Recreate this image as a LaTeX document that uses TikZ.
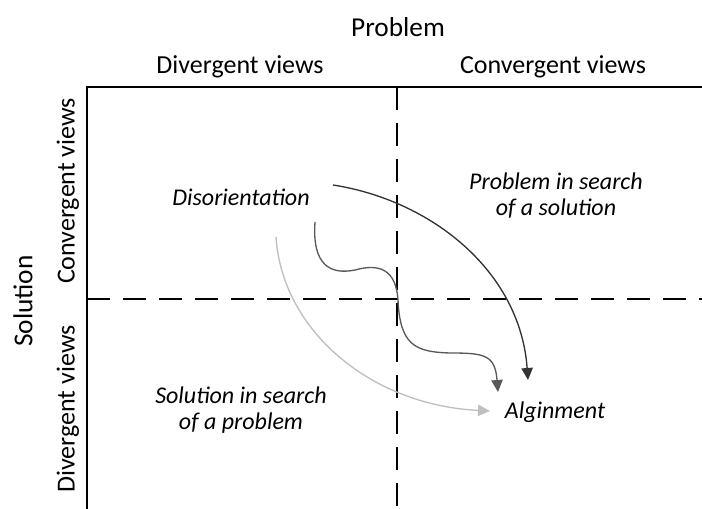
\documentclass[tikz,border=0pt]{standalone}
\usepackage{fontspec}
\setmainfont{Carlito}
\usetikzlibrary{arrows.meta}

\begin{document}
\begin{tikzpicture}[x=0.75pt,y=-0.75pt,>={Triangle[length=9pt,width=8.5pt]},
    grid/.style={line width=0.8pt,dash pattern=on 17pt off 10pt},
    head/.style={font=\fontsize{20.5}{24}\selectfont},
    side/.style={font=\fontsize{19.5}{23}\selectfont},
    tag/.style={font=\fontsize{18}{19.5}\selectfont\itshape,align=center}]
  \useasboundingbox (0,0) rectangle (702,509);
  % frame and quadrants
  \coordinate (tl) at (87,87);
  \draw[line width=0.8pt] (702,87) -- (tl) -- (87,509);
  \draw[grid] (397,87) -- (397,509);
  \draw[grid] (87,299) -- (702,299);
  % axis titles
  \node[head] (prob) at (398,27) {Problem};
  \node[side] (pdiv) at (240,67) {Divergent views};
  \node[side] (pcon) at (553,67) {Convergent views};
  \node[head,rotate=90] (sol) at (23,301) {Solution};
  \node[side,rotate=90] (scon) at (68,191) {Convergent views};
  \node[side,rotate=90] (sdiv) at (68,409) {Divergent views};
  % quadrant labels
  \node[tag] (dis) at (241,197) {Disorientation};
  \node[tag] (pis) at (556,196) {Problem in search\\of a solution};
  \node[tag] (sis) at (241,410) {Solution in search\\of a problem};
  \node[tag] (ali) at (555,412) {Alginment};
  % paths to alignment
  \coordinate (a1) at (333,185);
  \coordinate (b1) at (528,380);
  \draw[->,line width=1pt,black!80] (a1) .. controls (430,200) and (520,270) .. (b1);
  \coordinate (a2) at (315,222);
  \coordinate (b2) at (498,392);
  \draw[->,line width=1pt,black!65] (a2) .. controls (312,265) and (330,275) .. (355,270)
    .. controls (380,263) and (396,270) .. (398,300)
    .. controls (400,345) and (415,352) .. (450,353)
    .. controls (485,353) and (495,355) .. (b2);
  \coordinate (a3) at (276,237);
  \coordinate (b3) at (490,411);
  \draw[->,line width=1pt,black!25] (a3) .. controls (282,330) and (370,405) .. (b3);
\end{tikzpicture}
\end{document}
